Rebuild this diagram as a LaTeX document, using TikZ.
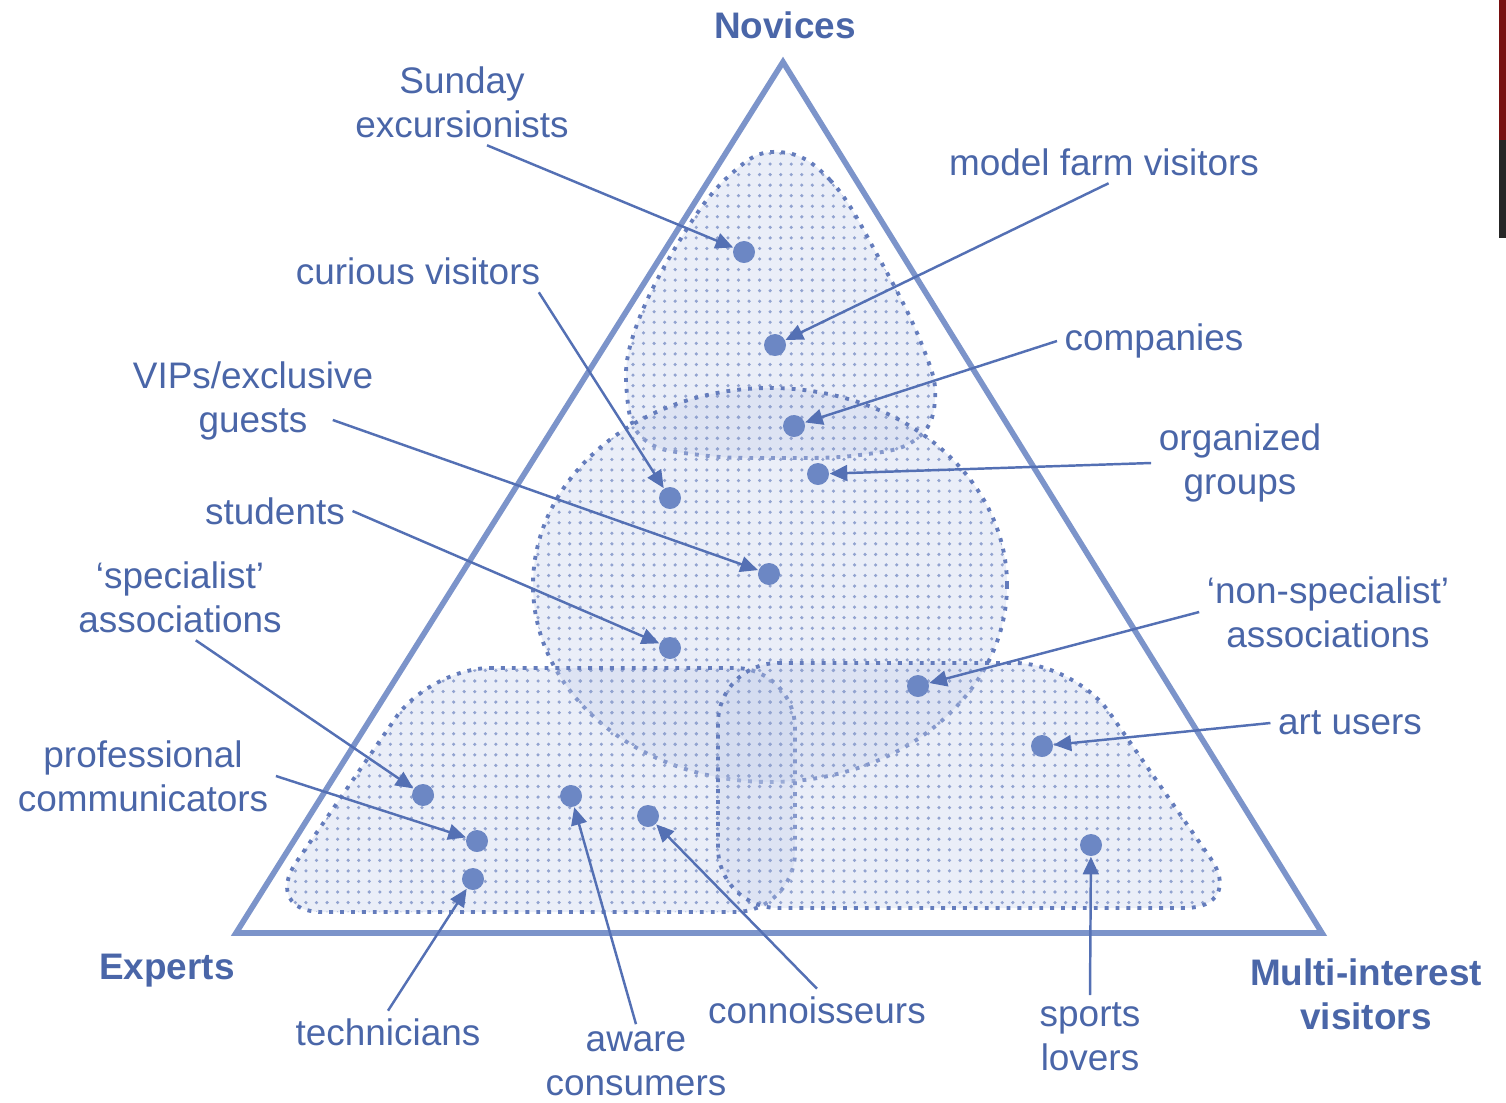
\documentclass[tikz,border=0pt]{standalone}
\usepackage{fontspec}
\setmainfont{Liberation Sans}
\usepackage{tikz}
\usetikzlibrary{arrows.meta,patterns,positioning}
\definecolor{labelblue}{RGB}{74,102,168}
\definecolor{frameblue}{RGB}{124,148,202}
\definecolor{dotblue}{RGB}{108,135,196}
\definecolor{arrowblue}{RGB}{84,112,180}
\definecolor{regionline}{RGB}{100,124,188}
\definecolor{regionfill}{RGB}{196,207,234}
\definecolor{stripred}{RGB}{120,16,16}
\tikzset
{
    tag/.style = {text=labelblue, align=center, inner sep=2pt,
                  font=\fontsize{10.5}{12.5}\selectfont},
    corner/.style = {tag, font=\bfseries\fontsize{10.5}{12.5}\selectfont},
    visitor/.style = {circle, fill=dotblue, minimum size=0.22cm, inner sep=0pt},
    pointer/.style = {draw=arrowblue, line width=0.7pt,
                      -{Triangle[length=5pt,width=4.5pt]}},
    region/.style = {draw=regionline, dotted, line width=1.1pt,
                     preaction={fill=regionfill, fill opacity=0.35},
                     pattern=dots, pattern color=regionline!70},
    frame/.style = {draw=frameblue, line width=1.6pt, line join=miter}
}
\begin{document}
\begin{tikzpicture}[
        % one unit is one pixel of the reference, y runs downwards
        x=0.01cm, y=-0.01cm
      ]
    \useasboundingbox (0,0) rectangle (1506,1103);

    % visitor regions
    \path[region] plot[smooth cycle, tension=0.7] coordinates {
        (778,152) (830,180) (880,260) (922,345) (935,400) (915,440)
        (860,455) (780,458) (700,455) (645,440) (627,395) (635,330)
        (680,240) (730,175)};
    \path[region] (770,585) ellipse [x radius=237, y radius=197];
    \path[region, rounded corners=0.6cm]
        (430,668) -- (795,668) -- (795,912) -- (262,912) -- cycle;
    \path[region, rounded corners=0.6cm]
        (718,663) -- (1075,663) -- (1245,908) -- (718,908) -- cycle;

    % the triangle
    \draw[frame] (783,62) -- (1322,933) -- (236,933) -- cycle;

    % corners
    \node[corner] (novices) at (785,25) {Novices};
    \node[corner] (experts) at (167,971) {Experts};
    \node[corner] (multi) at (1366,994) {Multi-interest\\visitors};

    % labels
    \node[tag] (sunday) at (462,102) {Sunday\\excursionists};
    \node[tag] (farm) at (1104,162) {model farm visitors};
    \node[tag] (curious) at (418,271) {curious visitors};
    \node[tag] (companies) at (1154,341) {companies};
    \node[tag] (vips) at (253,401) {VIPs/exclusive\\guests};
    \node[tag] (organized) at (1240,463) {organized\\groups};
    \node[tag] (students) at (275,511) {students};
    \node[tag] (specialist) at (180,597) {‘specialist’\\associations};
    \node[tag] (nonspec) at (1328,612) {‘non-specialist’\\associations};
    \node[tag] (artusers) at (1350,723) {art users};
    \node[tag] (professional) at (143,776) {professional\\communicators};
    \node[tag] (technicians) at (388,1032) {technicians};
    \node[tag] (aware) at (636,1064) {aware\\consumers};
    \node[tag] (connoisseurs) at (817,1010) {connoisseurs};
    \node[tag] (sports) at (1090,1037) {sports\\lovers};

    % visitor dots
    \node[visitor] (d-sunday) at (744,252) {};
    \node[visitor] (d-farm) at (775,345) {};
    \node[visitor] (d-companies) at (794,426) {};
    \node[visitor] (d-organized) at (818,474) {};
    \node[visitor] (d-curious) at (670,498) {};
    \node[visitor] (d-vips) at (769,574) {};
    \node[visitor] (d-students) at (670,648) {};
    \node[visitor] (d-nonspec) at (918,686) {};
    \node[visitor] (d-artusers) at (1042,746) {};
    \node[visitor] (d-sports) at (1091,845) {};
    \node[visitor] (d-specialist) at (423,795) {};
    \node[visitor] (d-professional) at (477,841) {};
    \node[visitor] (d-technicians) at (473,879) {};
    \node[visitor] (d-aware) at (571,796) {};
    \node[visitor] (d-connoisseurs) at (648,816) {};

    % pointers
    \draw[pointer] (sunday.-60) -- (d-sunday);
    \draw[pointer] (farm.-78) -- (d-farm);
    \draw[pointer] (companies.west) -- (d-companies);
    \draw[pointer] (organized.west) -- (d-organized);
    \draw[pointer] (curious.-10) -- (d-curious);
    \draw[pointer] ([shift={(-48,19)}]vips.east) -- (d-vips);
    \draw[pointer] (students.east) -- (d-students);
    \draw[pointer] (specialist.-70) -- (d-specialist);
    \draw[pointer] (professional.east) -- (d-professional);
    \draw[pointer] (technicians.north) -- (d-technicians);
    \draw[pointer] (aware.north) -- (d-aware);
    \draw[pointer] (connoisseurs.north) -- (d-connoisseurs);
    \draw[pointer] (sports.north) -- (d-sports);
    \draw[pointer] (artusers.west) -- (d-artusers);
    \draw[pointer] (nonspec.west) -- (d-nonspec);

    % edge strip
    \fill[stripred] (1499,0) rectangle (1506,140);
    \fill[black!85] (1499,140) rectangle (1506,238);
\end{tikzpicture}
\end{document}
